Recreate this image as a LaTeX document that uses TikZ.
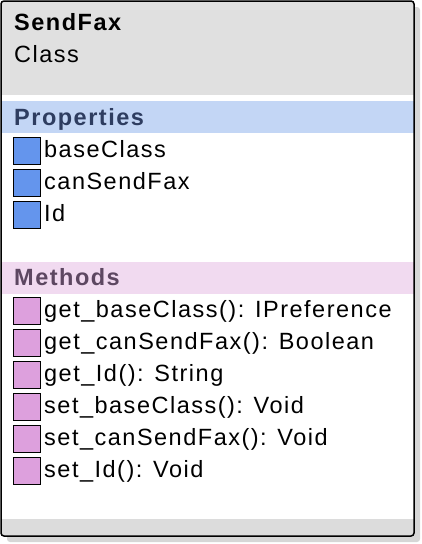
\documentclass[tikz,border=0pt]{standalone}
\usepackage{fontspec}
\newfontfamily\umlfont{Liberation Sans}[LetterSpace=6.4]
\newcommand{\umlsize}{\umlfont\fontsize{23.5}{28}\selectfont}
\usetikzlibrary{positioning}
\definecolor{headgray}{HTML}{E0E0E0}
\definecolor{footgray}{HTML}{DCDCDC}
\definecolor{shadowgray}{HTML}{D6D6D6}
\definecolor{propband}{HTML}{C3D6F5}
\definecolor{proptext}{HTML}{2E3D60}
\definecolor{propfill}{HTML}{6495ED}
\definecolor{methband}{HTML}{F1DAF0}
\definecolor{methtext}{HTML}{5D4761}
\definecolor{methfill}{HTML}{DDA0DD}
\tikzset{
  label text/.style = {inner sep = 0pt, anchor = base west, font = \umlsize},
  bold text/.style = {label text, font = \umlsize\bfseries},
  member icon/.style = {draw = black, line width = 1pt, inner sep = 0pt, minimum size = 27pt, anchor = north west},
}
\begin{document}
\begin{tikzpicture}[x = 1pt, y = -1pt]
\useasboundingbox (0, 0) rectangle (421, 544);
%\draw[step = 10, gray, very thin] (0, 0) grid (421, 544);
\fill[shadowgray, rounded corners = 3pt] (7, 7) rectangle (420, 542);
\fill[white] (1, 1) rectangle (414, 536);
\fill[headgray] (1, 1) rectangle (414, 95);
\fill[propband] (1, 101) rectangle (414, 133);
\fill[methband] (1, 262) rectangle (414, 294);
\fill[footgray] (1, 519) rectangle (414, 536);
\draw[line width = 1.5pt, rounded corners = 3pt] (1, 1) rectangle (414, 536);
\node[bold text] (name) at (14, 30.5) {SendFax};
\node[label text] (kind) at (14, 62) {Class};
\node[bold text, text = proptext] (props) at (14, 125.5) {Properties};
\node[bold text, text = methtext] (meths) at (14, 285) {Methods};
\foreach \i/\ptext in {0/baseClass, 1/canSendFax, 2/Id} {
  \node[member icon, fill = propfill] (p\i) at (12.5, 136.5 + 32*\i) {};
  \node[label text] (pt\i) at (44, 157.3 + 32*\i) {\ptext};
}
\foreach \i/\mtext in {0/get\_baseClass(): IPreference, 1/get\_canSendFax(): Boolean, 2/get\_Id(): String, 3/set\_baseClass(): Void, 4/set\_canSendFax(): Void, 5/set\_Id(): Void} {
  \node[member icon, fill = methfill] (m\i) at (12.5, 296.5 + 32*\i) {};
  \node[label text] (mt\i) at (44, 317 + 32*\i) {\mtext};
}
\end{tikzpicture}
\end{document}
